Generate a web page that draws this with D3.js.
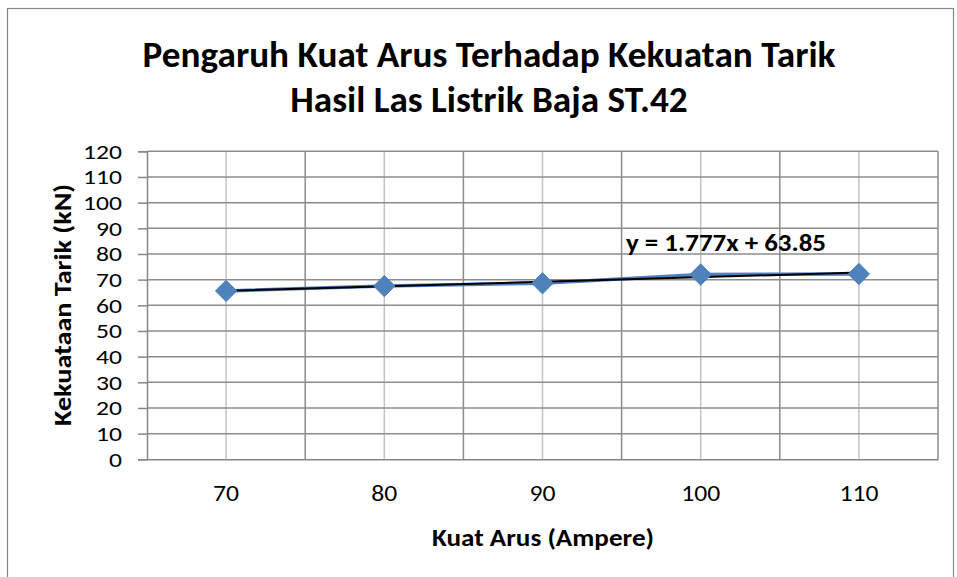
<!DOCTYPE html>
<html><head><meta charset="utf-8">
<script src="https://cdn.jsdelivr.net/npm/d3@7/dist/d3.min.js"></script>
<style>
html,body{margin:0;padding:0;background:#fff;}
svg{display:block;font-family:Carlito,Lato,"Open Sans",sans-serif;}
</style></head>
<body>
<svg id="chart" width="957" height="577"></svg>
<script>
const categories = ["70","80","90","100","110"];
const values = [65.6, 67.5, 68.6, 72.0, 72.2];
const yTicks = [0,10,20,30,40,50,60,70,80,90,100,110,120];
const trendSlope = 1.777;
const trendIntercept = 63.85;
const trendLabel = "y = 1.777x + 63.85";
const titleLines = ["Pengaruh Kuat Arus Terhadap Kekuatan Tarik","Hasil Las Listrik Baja ST.42"];
const xTitle = "Kuat Arus (Ampere)";
const yTitle = "Kekuataan Tarik (kN)";

const svg = d3.select("#chart");
const L=147, R=938, T=151.3, B=459.3;

function fitTo(sel, target){
  sel.attr("textLength", target).attr("lengthAdjust","spacingAndGlyphs");
  return sel;
}
function stretch(sel, factor){
  sel.each(function(){
    const w = this.getComputedTextLength();
    d3.select(this).attr("textLength", w*factor).attr("lengthAdjust","spacingAndGlyphs");
  });
}

// outer border
svg.append("rect").attr("x",7.5).attr("y",8.5).attr("width",946).attr("height",580)
  .attr("fill","#fff").attr("stroke","#868686").attr("stroke-width",1.2);

const x = d3.scaleBand().domain(categories).range([L,R]).padding(0);
const y = d3.scaleLinear().domain([0,120]).range([B,T]);

// minor vertical gridlines (category centers)
svg.append("g").selectAll("line").data(categories).join("line")
  .attr("x1",d=>x(d)+x.bandwidth()/2).attr("x2",d=>x(d)+x.bandwidth()/2)
  .attr("y1",T).attr("y2",B).attr("stroke","#c4c4c4").attr("stroke-width",1.5);
// major vertical gridlines (category boundaries)
const bounds = categories.map(d=>x(d)).concat([x(categories[categories.length-1])+x.bandwidth()]);
svg.append("g").selectAll("line").data(bounds.slice(1)).join("line")
  .attr("x1",d=>d).attr("x2",d=>d).attr("y1",T).attr("y2",B)
  .attr("stroke","#8c8c8c").attr("stroke-width",1.5);
// horizontal gridlines
svg.append("g").selectAll("line").data(yTicks.slice(1)).join("line")
  .attr("x1",L).attr("x2",R).attr("y1",d=>y(d)).attr("y2",d=>y(d))
  .attr("stroke","#8c8c8c").attr("stroke-width",1.5);

// y axis
const yAxis = d3.axisLeft(y).tickValues(yTicks).tickSize(9).tickPadding(16).tickFormat(d3.format("d"));
const gy = svg.append("g").attr("transform",`translate(${L},0)`).call(yAxis);
gy.select(".domain").attr("stroke","#868686").attr("stroke-width",1.5);
gy.selectAll(".tick line").attr("stroke","#868686").attr("stroke-width",1.5);
gy.selectAll(".tick text").attr("font-size",21).attr("fill","#000").attr("font-family","Carlito,Lato,sans-serif");

// x axis
const xAxis = d3.axisBottom(x).tickSize(0).tickPadding(25);
const gx = svg.append("g").attr("transform",`translate(0,${B})`).call(xAxis);
gx.select(".domain").attr("stroke","#868686").attr("stroke-width",1.5);
gx.selectAll(".tick text").attr("font-size",23).attr("fill","#000").attr("font-family","Carlito,Lato,sans-serif");

// widen tick labels slightly so "120" is about 39px wide
const ref = gy.selectAll(".tick text").filter(d=>d===120).node().getComputedTextLength();
const tf = 39/ref;
stretch(gy.selectAll(".tick text"), tf);
const refx = gx.selectAll(".tick text").filter(d=>d==="100").node().getComputedTextLength();
stretch(gx.selectAll(".tick text"), 39/refx);

// series line
const cx = d=>x(d)+x.bandwidth()/2;
const pts = categories.map((c,i)=>[cx(c), y(values[i])]);
svg.append("path").attr("d",d3.line()(pts)).attr("fill","none")
  .attr("stroke","#4f81bd").attr("stroke-width",3.5);
// trendline
const tpts = categories.map((c,i)=>[cx(c), y(trendSlope*(i+1)+trendIntercept)]);
svg.append("path").attr("d",d3.line()([tpts[0],tpts[tpts.length-1]])).attr("fill","none")
  .attr("stroke","#000").attr("stroke-width",2);
// markers
svg.append("g").selectAll("path").data(pts).join("path")
  .attr("d",d3.symbol().type(d3.symbolDiamond2).size(290))
  .attr("transform",d=>`translate(${d[0]},${d[1]})`)
  .attr("fill","#4f81bd").attr("stroke","#4f81bd").attr("stroke-width",1);

// trend label
fitTo(svg.append("text").attr("x",626).attr("y",251).attr("font-size",25).attr("font-weight","bold")
  .text(trendLabel), 200);

// title
const t1 = svg.append("text").attr("x",489).attr("y",67).attr("text-anchor","middle")
  .attr("font-weight","bold").attr("font-size",32).text(titleLines[0]);
const w = t1.node().getComputedTextLength();
const fs = 32*693/w;
t1.attr("font-size",fs);
svg.append("text").attr("x",489).attr("y",112).attr("text-anchor","middle")
  .attr("font-weight","bold").attr("font-size",fs).text(titleLines[1]);

// axis titles
fitTo(svg.append("text").attr("x",543).attr("y",546).attr("text-anchor","middle")
  .attr("font-weight","bold").attr("font-size",25).text(xTitle), 222);
fitTo(svg.append("text").attr("transform","translate(71,305) rotate(-90)").attr("text-anchor","middle")
  .attr("font-weight","bold").attr("font-size",25).text(yTitle), 242);
</script>
</body></html>
